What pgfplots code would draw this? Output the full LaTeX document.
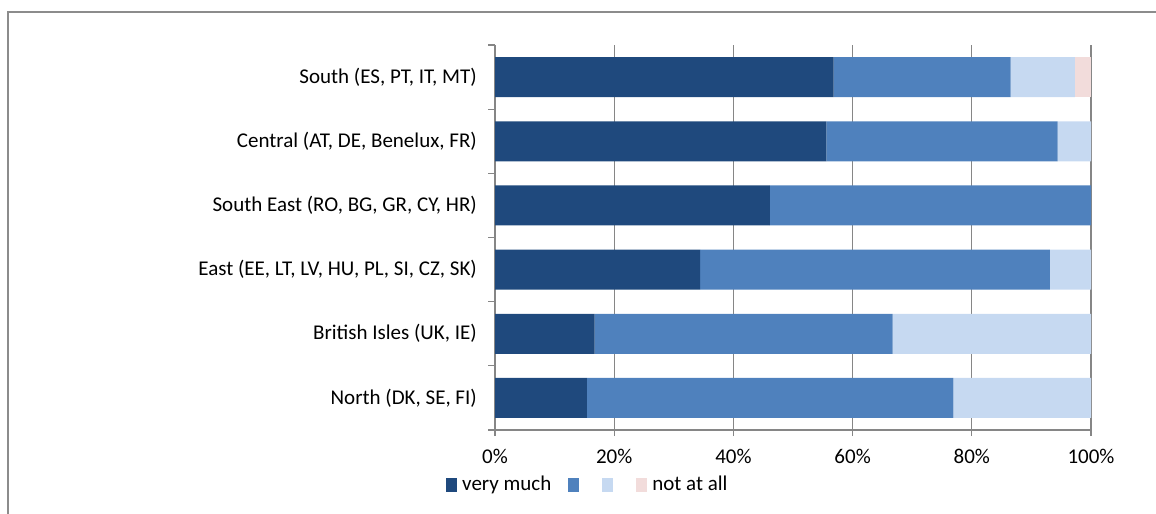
\documentclass[border=0pt]{standalone}
\usepackage{fontspec}
\setmainfont{Carlito}
\usepackage{pgfplots}
\pgfplotsset{compat=1.18}

\definecolor{vmuch}{HTML}{1F497D}
\definecolor{quite}{HTML}{4F81BD}
\definecolor{little}{HTML}{C6D9F1}
\definecolor{notall}{HTML}{F2DCDB}
\definecolor{axisgray}{HTML}{868686}
\definecolor{framegray}{HTML}{8C8C8C}

\begin{document}
\fontsize{21bp}{25bp}\selectfont
\begin{tikzpicture}
\useasboundingbox (0,0) rectangle (1156bp,514bp);
\clip (0,0) rectangle (1156bp,514bp);
% outer chart frame
\draw[framegray, line width=2bp] (8bp,-5bp) -- (8bp,502bp) -- (1170bp,502bp);
\begin{axis}[
  at={(495bp,84bp)}, anchor=south west,
  scale only axis, width=596bp, height=385bp,
  xbar stacked, bar width=40bp,
  xmin=0, xmax=100, ymin=-0.5, ymax=5.5,
  axis x line*=bottom, axis y line*=left,
  axis line style={axisgray, line width=1.3bp},
  xtick={0,20,...,100},
  xticklabel={\pgfmathprintnumber{\tick}\%},
  /pgf/number format/assume math mode=true,
  xmajorgrids,
  grid style={axisgray, line width=1.3bp},
  tick align=outside,
  major tick length=6bp,
  minor tick length=7bp,
  major x tick style={axisgray, line width=1.3bp},
  major y tick style={draw=none},
  minor y tick style={axisgray, line width=1.3bp},
  ytick={0,...,5},
  minor ytick={-0.5,0.5,...,5.5},
  yticklabels={{North (DK, SE, FI)},{British Isles (UK, IE)},{East (EE, LT, LV, HU, PL, SI, CZ, SK)},{South East (RO, BG, GR, CY, HR)},{Central (AT, DE, Benelux, FR)},{South (ES, PT, IT, MT)}},
  every tick label/.append style={font=\fontsize{21bp}{25bp}\selectfont},
  yticklabel style={anchor=east, inner sep=0pt, xshift=-12bp},
  xticklabel style={yshift=-6bp},
  legend columns=4,
  legend image code/.code={\fill[#1,draw=none] (0bp,-7bp) rectangle (11bp,7bp);},
  legend style={at={(-0.0822,-0.1429)}, anchor=west, draw=none, inner sep=0pt,
    font=\fontsize{21bp}{25bp}\selectfont,
    nodes={inner sep=0pt},
    /tikz/every odd column/.append style={column sep=5bp},
    /tikz/every even column/.append style={column sep=17bp}},
]
\addplot[fill=vmuch, draw=none] coordinates {(15.4,0) (16.7,1) (34.4,2) (46.1,3) (55.6,4) (56.8,5)};
\addlegendentry{very much}
\addplot[fill=quite, draw=none] coordinates {(61.5,0) (50.0,1) (58.7,2) (53.9,3) (38.8,4) (29.7,5)};
\addlegendentry{\mbox{}}
\addplot[fill=little, draw=none] coordinates {(23.1,0) (33.3,1) (6.9,2) (0,3) (5.6,4) (10.8,5)};
\addlegendentry{\mbox{}}
\addplot[fill=notall, draw=none] coordinates {(0,0) (0,1) (0,2) (0,3) (0,4) (2.7,5)};
\addlegendentry{not at all}
\end{axis}
\end{tikzpicture}
\end{document}
